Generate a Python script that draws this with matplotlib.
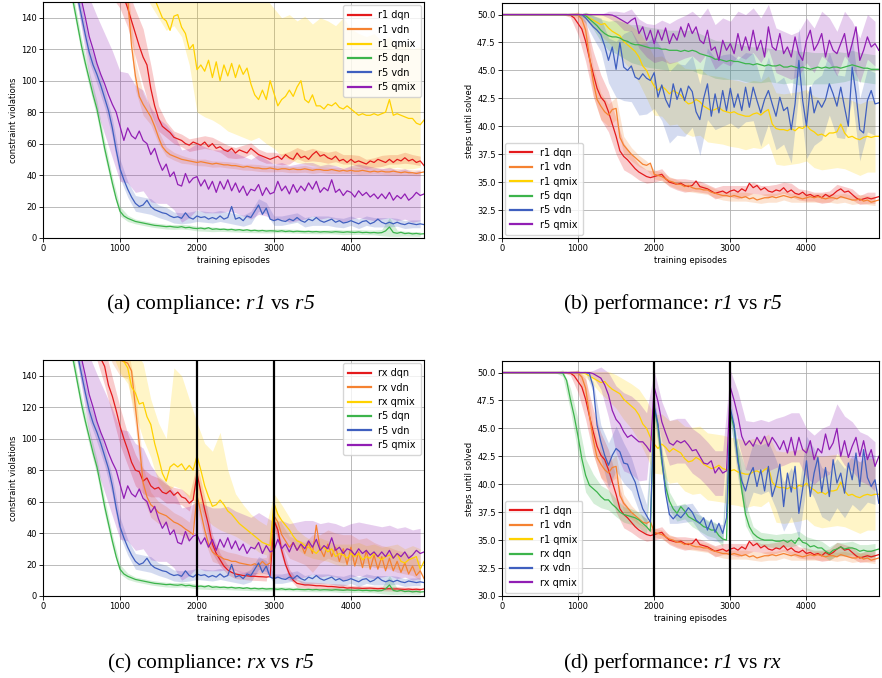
import numpy as np
import matplotlib
matplotlib.use("Agg")
import matplotlib.pyplot as plt

# math segments of the captions are fully italic (digits too)
plt.rcParams["mathtext.fontset"] = "custom"
plt.rcParams["mathtext.it"] = "Liberation Serif:italic"
plt.rcParams["mathtext.rm"] = "Liberation Serif:italic"

# training episodes, sampled every 50 (curves) and every 100 (bands)
episodes = np.arange(0, 5000, 50)
band_episodes = np.arange(0, 5000, 100)

# ---------------- (a) compliance: r1 vs r5 (constraint violations) ----------------
viol_r1_dqn = np.array([
    192, 192, 191, 191, 190, 190, 189, 189, 188, 187,
    186, 185, 183, 181, 178, 175, 171, 167, 163, 159,
    156, 153, 146, 138, 130, 122, 115, 110, 95, 84,
    76, 71, 69, 67, 64, 63, 62, 60, 59, 61,
    60, 59, 61, 58, 60, 57, 58, 56, 55, 57,
    54, 56, 55, 54, 57, 55, 53, 52, 51, 50,
    51, 52, 50, 53, 51, 50, 54, 51, 52, 50,
    53, 55, 52, 53, 51, 50, 52, 49, 50, 48,
    50, 48, 49, 48, 47, 49, 48, 50, 49, 48,
    50, 48, 50, 49, 51, 49, 50, 48, 49, 46])
viol_r1_vdn = np.array([
    240, 236, 232, 228, 224, 220, 216, 212, 208, 204,
    209, 208, 207, 206, 204, 202, 200, 198, 195, 192,
    188, 175, 152, 122, 103, 90, 85, 81, 77, 71,
    64, 58, 55, 53, 52, 51, 50, 49.5, 49, 48.5,
    48, 48.5, 48, 47.5, 47, 47.5, 47, 46.5, 46.5, 46,
    46, 45.5, 45, 45.5, 45, 44.5, 44.5, 44, 44, 44.5,
    44, 43.5, 44, 44, 43.5, 44, 43.5, 43.5, 44, 43.5,
    43, 43.5, 43.5, 43, 43, 43.5, 43, 42.5, 43, 42.5,
    43, 42.5, 42.5, 43, 42.5, 42, 42.5, 42, 42.5, 42,
    42, 42.5, 42, 41.5, 42, 41.5, 41.5, 41, 41.5, 42])
viol_r1_qmix = np.array([
    230, 229, 228, 227, 226, 225, 224, 222, 220, 218,
    216, 214, 212, 210, 207, 204, 201, 198, 195, 191,
    187, 183, 179, 175, 171, 167, 163, 160, 156, 152,
    146, 140, 138, 132, 141, 142, 134, 130, 120, 123,
    107, 110, 106, 113, 102, 112, 100, 110, 103, 111,
    102, 110, 104, 108, 98, 91, 88, 94, 88, 100,
    92, 84, 88, 90, 94, 90, 96, 100, 88, 86,
    91, 84, 84, 82, 85, 84, 86, 83, 82, 84,
    82, 80, 78, 79, 78, 78, 79, 78, 79, 80,
    88, 78, 79, 78, 77, 76, 76, 73, 72, 75])
viol_r5_dqn = np.array([
    245, 235, 222, 210, 196, 185, 172, 160, 148, 135,
    122, 111, 101, 91, 82, 70, 57, 46, 35, 25,
    17, 14, 12.5, 11.5, 10.5, 10, 9.5, 9, 8.5, 8,
    7.8, 7.5, 7.2, 7.4, 7, 6.8, 7.2, 6.5, 6.8, 6.2,
    6, 6.3, 5.8, 6.5, 5.5, 5.8, 5.4, 5.6, 5.2, 5.5,
    5, 5.3, 4.8, 5.2, 4.6, 4.9, 4.5, 4.8, 4.4, 4.6,
    4.5, 4.2, 4.6, 4.1, 4.4, 4.0, 4.3, 4.1, 4.0, 4.2,
    3.9, 4.1, 3.8, 4.0, 3.9, 3.7, 4.0, 3.8, 3.6, 3.9,
    3.7, 3.5, 3.8, 3.4, 3.6, 3.3, 3.5, 3.2, 3.4, 4.5,
    7, 3.5, 3, 3.6, 2.8, 3.1, 2.6, 2.9, 2.5, 2.7])
viol_r5_vdn = np.array([
    265, 255, 245, 232, 220, 206, 192, 178, 165, 153,
    141, 129, 118, 110, 104, 97, 89, 81, 70, 56,
    44, 37, 31, 26, 22, 20, 21, 24, 20, 18,
    17, 16, 15.5, 14, 13, 13.5, 12.5, 16, 13, 12,
    14, 13, 13.5, 12, 13, 12, 14, 12, 13, 20,
    12, 13, 11, 14, 13, 17, 21, 15, 19, 12,
    11, 12, 11, 10.5, 12, 11, 13, 11, 10, 12,
    11, 13, 11, 10, 11, 12, 10, 11, 9.5, 10,
    11, 10, 9, 10.5, 11, 9, 10, 12, 10, 9,
    10, 9, 10, 9, 8.5, 9.5, 9, 8.5, 9, 8.5])
viol_r5_qmix = np.array([
    270, 258, 246, 234, 222, 210, 198, 186, 174, 162,
    151, 140, 128, 120, 111, 104, 98, 91, 85, 80,
    71, 62, 70, 65, 63, 68, 62, 60, 53, 57,
    49, 43, 47, 39, 42, 34, 33, 41, 35, 38,
    39, 33, 37, 31, 36, 29, 36, 31, 37, 30,
    35, 29, 33, 27, 31, 30, 34, 27, 32, 28,
    29, 36, 30, 33, 28, 34, 29, 33, 30, 35,
    31, 36, 29, 32, 30, 37, 29, 31, 27, 30,
    29, 26, 30, 27, 29, 26, 28, 25, 28, 25,
    29, 24, 27, 25, 28, 24, 26, 29, 27, 28])

hw_viol_r1_dqn = [10, 10, 10, 10, 10, 10, 10, 10, 10, 10,
                  10, 12, 15, 18, 15, 8, 5, 4, 4, 4,
                  4, 4, 4, 3.5, 4, 3.5, 4, 3.5, 3.5, 3.5,
                  3.5, 3.5, 4, 3.5, 3.5, 4, 3.5, 3.5, 3.5, 3,
                  3, 3.5, 3, 3, 3.5, 3, 3, 3.5, 3, 3]
hw_viol_r1_vdn = [8, 8, 8, 8, 8, 8, 8, 8, 8, 8,
                  8, 10, 9, 7, 5, 4, 3, 2.5, 2.5, 2,
                  2, 2.2, 2, 1.8, 2, 2, 1.8, 2, 2.2, 2,
                  2, 1.8, 2, 2, 2.2, 2, 1.8, 2, 2, 2,
                  2, 2.2, 2, 1.8, 2, 2, 2.2, 2, 1.8, 2]
lo_viol_r1_qmix = [215, 213, 211, 209, 205, 201, 197, 192, 186, 180,
                   172, 164, 160, 157, 148, 140, 132, 135, 128, 110,
                   80, 77, 75, 72, 68, 66, 64, 62, 64, 60,
                   57, 52, 50, 48, 47, 46, 45, 45, 46, 45,
                   45, 44, 45, 44, 45, 44, 45, 44, 44, 45]
hi_viol_r1_qmix = [250, 250, 250, 250, 250, 250, 250, 250, 250, 250,
                   240, 230, 220, 210, 200, 190, 185, 185, 180, 175,
                   170, 170, 168, 165, 165, 163, 160, 158, 155, 152,
                   146, 140, 142, 138, 141, 136, 140, 138, 135, 140,
                   133, 130, 128, 130, 125, 128, 122, 124, 120, 122]
hw_viol_r5_dqn = [5, 5, 5, 5, 5, 5, 5, 5, 5, 4,
                  3, 2, 1.5, 1.5, 1.5, 1.5, 1.5, 1.5, 1.5, 1.5,
                  1.5, 1.5, 1.5, 1.2, 1.2, 1.2, 1.2, 1.2, 1.2, 1.2,
                  1.2, 1.2, 1.2, 1.2, 1.2, 1.2, 1.2, 1.2, 1.5, 1.5,
                  1.5, 1.5, 1.5, 1.5, 2, 6, 2, 1.5, 1.5, 1.5]
hw_viol_r5_vdn = [6, 6, 6, 6, 6, 6, 6, 6, 6, 6,
                  6, 5, 5, 5, 5, 4, 4, 3.5, 3.5, 3.5,
                  3.5, 3.5, 3.5, 3.5, 3.5, 3.5, 3.5, 4, 4, 3.5,
                  3, 3, 3, 3, 3, 3, 3, 3, 3, 3,
                  3, 3, 3, 3, 3, 3, 2.5, 2.5, 2.5, 2.5]
hw_viol_r5_qmix = [10, 10, 10, 10, 12, 18, 25, 30, 32, 34,
                   35, 35, 34, 32, 30, 27, 25, 24, 23, 22,
                   21, 21, 20, 20, 20, 19, 19, 19, 19, 18,
                   18, 18, 18, 18, 18, 17, 17, 17, 17, 17,
                   17, 17, 17, 17, 16, 16, 16, 16, 16, 16]

# ---------------- (b) performance: r1 vs r5 (steps until solved) ----------------
steps_r1_dqn = np.array([
    50, 50, 50, 50, 50, 50, 50, 50, 50, 50,
    50, 50, 50, 50, 50, 50, 50, 50, 49.95, 49.7,
    49.2, 48.7, 47.6, 46.1, 44.7, 43.4, 42.6, 42.2, 41.3, 40.2,
    39.1, 37.8, 37.3, 37.0, 36.6, 36.2, 35.9, 35.7, 35.5, 35.4,
    35.5, 35.6, 35.7, 35.3, 35.0, 34.9, 34.8, 34.9, 34.7, 34.6,
    34.7, 35.1, 34.6, 34.5, 34.4, 34.2, 34.0, 34.1, 34.2, 34.0,
    34.2, 34.3, 34.1, 34.4, 34.2, 34.9, 34.5, 34.7, 34.3, 34.5,
    34.2, 34.1, 34.3, 34.2, 34.5, 34.1, 34.3, 34.0, 33.9, 34.1,
    33.8, 33.9, 33.7, 33.8, 33.6, 33.9, 33.7, 33.9, 34.2, 34.4,
    34.1, 34.2, 33.9, 33.6, 33.4, 33.5, 33.6, 33.5, 33.6, 33.7])
steps_r1_vdn = np.array([
    50, 50, 50, 50, 50, 50, 50, 50, 50, 50,
    50, 50, 50, 50, 50, 50, 50, 50, 50, 50,
    49.95, 49.6, 48.6, 46.2, 44.0, 42.4, 41.8, 41.3, 41.0, 41.5,
    41.6, 39.0, 38.3, 37.9, 37.5, 37.2, 36.9, 36.6, 36.5, 36.7,
    35.7, 35.6, 35.5, 35.3, 35.1, 35.0, 34.8, 34.8, 34.6, 34.7,
    34.5, 34.4, 34.4, 34.3, 34.3, 34.1, 34.0, 33.9, 33.8, 33.8,
    33.7, 33.8, 33.7, 33.6, 33.7, 33.5, 33.6, 33.4, 33.5, 33.6,
    33.6, 33.7, 33.6, 33.7, 33.8, 33.7, 33.6, 33.7, 33.6, 33.5,
    33.6, 33.7, 33.6, 33.7, 33.6, 33.5, 33.6, 33.6, 33.5, 33.7,
    33.6, 33.5, 33.4, 33.4, 33.5, 33.3, 33.4, 33.2, 33.3, 33.4])
steps_r1_qmix = np.array([
    50, 50, 50, 50, 50, 50, 50, 50, 50, 50,
    50, 50, 50, 50, 50, 50, 50, 50, 50, 50,
    50, 50, 49.9, 49.7, 49.5, 49.3, 49.1, 49.2, 48.8, 48.5,
    48.3, 48.1, 47.6, 47.3, 47.0, 46.7, 46.2, 45.4, 45.0, 44.2,
    43.6, 43.2, 43.6, 43.3, 42.9, 43.2, 43.0, 42.8, 42.3, 42.0,
    42.1, 42.4, 42.2, 41.8, 41.6, 41.4, 41.5, 41.7, 41.4, 41.3,
    41.2, 41.3, 41.1, 41.0, 40.9, 40.9, 41.1, 41.2, 41.0, 41.3,
    41.5, 40.2, 39.8, 39.7, 39.7, 39.6, 39.8, 39.6, 39.9, 39.8,
    40.1, 39.7, 39.5, 39.2, 39.3, 39.1, 39.4, 39.4, 39.5, 40.2,
    39.4, 39.0, 39.1, 38.9, 38.8, 39.0, 39.1, 39.0, 39.1, 39.1])
steps_r5_dqn = np.array([
    50, 50, 50, 50, 50, 50, 50, 50, 50, 50,
    50, 50, 50, 50, 50, 50, 50, 50, 50, 50,
    50, 50, 49.9, 49.6, 49.3, 49.0, 48.6, 48.3, 48.1, 48.0,
    48.0, 47.9, 47.7, 47.6, 47.4, 47.3, 47.3, 47.2, 47.1, 47.0,
    47.0, 47.0, 46.9, 46.9, 46.8, 46.8, 46.8, 46.7, 46.8, 46.7,
    46.8, 46.7, 46.5, 46.4, 46.3, 46.2, 46.0, 46.0, 45.9, 45.8,
    45.9, 45.8, 45.8, 45.7, 45.6, 45.6, 45.5, 45.6, 45.5, 45.4,
    45.5, 45.4, 45.4, 45.5, 45.3, 45.3, 45.4, 45.3, 45.2, 45.3,
    45.2, 45.1, 45.2, 45.3, 45.2, 45.3, 45.2, 45.3, 45.3, 45.2,
    45.3, 45.4, 45.5, 45.4, 45.3, 45.2, 45.2, 45.1, 45.1, 45.1])
steps_r5_vdn = np.array([
    50, 50, 50, 50, 50, 50, 50, 50, 50, 50,
    50, 50, 50, 50, 50, 50, 50, 50, 50, 50,
    50, 50, 49.7, 49.3, 48.9, 48.6, 48.2, 47.2, 45.9, 47.1,
    45.1, 47.5, 45.3, 45.0, 45.4, 44.4, 44.2, 44.7, 44.3, 44.1,
    44.8, 42.6, 43.7, 42.4, 41.7, 43.8, 42.4, 43.4, 42.3, 43.6,
    43.1, 41.3, 40.6, 42.5, 43.8, 40.9, 42.9, 41.2, 43.2, 41.4,
    43.4, 41.7, 42.9, 41.4, 43.5, 41.7, 43.5, 42.3, 41.2, 42.4,
    43.2, 42.0, 40.9, 42.6, 41.4, 41.7, 39.7, 42.0, 45.9, 42.3,
    40.0, 43.5, 41.2, 42.3, 41.7, 42.4, 43.8, 42.9, 41.8, 43.5,
    41.7, 40.0, 45.3, 42.9, 39.7, 39.4, 42.3, 43.2, 42.0, 42.1])
steps_r5_qmix = np.array([
    50, 50, 50, 50, 50, 50, 50, 50, 50, 50,
    50, 50, 50, 50, 50, 50, 50, 50, 50, 50,
    50, 50, 50, 50, 50, 50, 50, 50, 50, 49.95,
    49.8, 49.6, 49.4, 49.2, 49.5, 49.7, 48.3, 48.9, 47.7, 48.6,
    47.4, 48.6, 47.7, 48.8, 47.4, 48.3, 47.7, 48.9, 48.0, 49.2,
    48.3, 48.9, 47.7, 47.4, 48.6, 46.8, 47.1, 45.9, 47.7, 46.8,
    47.4, 46.5, 48.3, 46.8, 48.0, 46.8, 48.6, 46.8, 47.7, 46.2,
    48.9, 47.1, 46.8, 48.3, 46.5, 47.1, 46.2, 48.0, 46.5, 45.9,
    47.7, 48.6, 46.8, 47.4, 48.3, 46.2, 47.7, 46.8, 46.5, 47.4,
    48.3, 46.2, 47.4, 48.9, 45.9, 46.8, 48.0, 47.1, 47.4, 46.8])

hw_steps_r1_dqn = [0, 0, 0, 0, 0, 0, 0, 0, 0, 0.2,
                   1.0, 1.8, 2.0, 2.0, 1.8, 1.6, 1.2, 0.9, 0.7, 0.6,
                   0.5, 0.5, 0.4, 0.5, 0.6, 0.5, 0.5, 0.4, 0.5, 0.5,
                   0.5, 0.6, 0.5, 0.5, 0.4, 0.5, 0.5, 0.5, 0.6, 0.5,
                   0.5, 0.4, 0.5, 0.5, 0.6, 0.5, 0.5, 0.4, 0.5, 0.5]
hw_steps_r1_vdn = [0, 0, 0, 0, 0, 0, 0, 0, 0, 0,
                   0.3, 1.0, 1.3, 1.2, 1.0, 1.0, 0.8, 0.6, 0.5, 0.4,
                   0.4, 0.4, 0.4, 0.4, 0.4, 0.4, 0.4, 0.4, 0.4, 0.4,
                   0.4, 0.4, 0.4, 0.4, 0.4, 0.4, 0.4, 0.4, 0.4, 0.4,
                   0.4, 0.4, 0.4, 0.4, 0.4, 0.4, 0.4, 0.4, 0.4, 0.4]
hw_steps_r1_qmix = [0, 0, 0, 0, 0, 0, 0, 0, 0, 0,
                    0, 0.3, 0.6, 1.0, 1.3, 1.5, 1.8, 2.0, 2.3, 2.5,
                    2.6, 2.7, 2.8, 2.8, 2.9, 3.0, 3.0, 3.0, 3.0, 3.0,
                    3.0, 3.0, 3.0, 3.0, 3.0, 3.0, 3.2, 3.2, 3.2, 3.2,
                    3.2, 3.2, 3.2, 3.2, 3.2, 3.2, 3.2, 3.2, 3.2, 3.2]
hw_steps_r5_dqn = [0, 0, 0, 0, 0, 0, 0, 0, 0, 0,
                   0, 0.3, 0.6, 1.0, 1.3, 1.5, 1.6, 1.7, 1.8, 1.8,
                   1.8, 1.8, 1.8, 1.8, 1.8, 1.8, 1.8, 1.7, 1.7, 1.7,
                   1.7, 1.6, 1.6, 1.6, 1.6, 1.5, 1.5, 1.5, 1.5, 1.5,
                   1.5, 1.4, 1.4, 1.4, 1.4, 1.3, 1.3, 1.3, 1.3, 1.3]
hw_steps_r5_vdn = [0, 0, 0, 0, 0, 0, 0, 0, 0, 0,
                   0, 0.5, 1.0, 1.5, 2.0, 2.5, 3.0, 3.2, 3.2, 3.2,
                   3.2, 3.2, 3.2, 3.2, 3.2, 3.2, 3.2, 3.2, 3.2, 3.2,
                   3.1, 3.1, 3.1, 3.0, 3.0, 3.0, 3.0, 3.0, 3.0, 2.9,
                   2.9, 2.9, 2.9, 2.8, 2.8, 2.8, 2.8, 2.8, 2.8, 2.8]
hw_steps_r5_qmix = [0, 0, 0, 0, 0, 0, 0, 0, 0, 0,
                    0, 0, 0, 0, 0.3, 0.5, 0.8, 1.0, 1.3, 1.5,
                    1.7, 1.8, 1.8, 1.9, 1.9, 2.0, 2.0, 2.0, 2.0, 2.0,
                    2.0, 2.0, 2.0, 2.0, 2.0, 2.0, 2.0, 2.0, 2.0, 2.0,
                    2.0, 2.0, 2.0, 2.0, 2.0, 2.0, 2.0, 2.0, 2.0, 2.0]

# ---------------- (c) compliance: rx vs r5 ----------------
viol_rx_dqn = np.array([
    215, 212, 209, 206, 203, 200, 197, 194, 190, 186,
    180, 176, 172, 168, 162, 151, 146, 134, 127, 118,
    108, 100, 93, 85, 80, 79, 73, 75, 70, 68,
    69, 66, 65, 67, 64, 66, 63, 62, 59, 61,
    78, 66, 55, 45, 33, 27, 23, 19, 16.5, 15,
    14, 13.5, 13, 12.8, 12.5, 12.5, 12.3, 12.2, 12, 12.3,
    48, 42, 29, 20, 14, 10, 8, 7.5, 7, 7,
    6.8, 6.5, 6.5, 6.3, 6, 6, 5.8, 5.5, 5.5, 5,
    5.2, 5, 5, 4.8, 4.9, 5, 4.8, 4.6, 4.8, 4.5,
    4.6, 4.4, 4.5, 4.3, 4.2, 4.4, 4.1, 4.3, 4, 4.5])
viol_rx_vdn = np.array([
    240, 236, 232, 228, 224, 220, 216, 212, 208, 204,
    200, 195, 190, 185, 180, 175, 170, 165, 158, 152,
    150, 149, 148, 143, 120, 97, 72, 63, 58, 56,
    53, 52, 51, 49, 47, 46, 44.5, 42.5, 41, 39,
    64, 53, 42, 33, 28, 26, 25, 23.5, 23, 22,
    22, 21, 20.5, 20, 19.5, 20.5, 19, 22, 19.5, 21,
    51, 47, 39, 35, 31, 34, 29, 33, 27, 34,
    27, 45, 30, 25, 33, 25, 31, 22, 30, 20,
    31, 19, 28, 18, 29, 17, 26, 17, 25, 16,
    24, 16, 22, 15, 21, 14, 19, 13, 16, 11])
viol_rx_qmix = np.array([
    250, 246, 242, 238, 234, 230, 226, 222, 218, 214,
    210, 205, 200, 195, 190, 184, 178, 171, 164, 157,
    152, 149, 145, 133, 129, 122, 123, 114, 109, 97,
    88, 78, 73, 82, 84, 82, 84, 80, 83, 80,
    89, 80, 70, 63, 57, 58, 61, 58, 54, 52,
    49, 46, 44, 42, 40, 38, 36, 34, 33, 32,
    59, 52, 48, 45, 42, 38, 35, 34, 32, 31,
    29, 27, 30, 31, 28, 30, 25, 27, 26, 24,
    27, 25, 27, 23, 25, 24, 27, 25, 23, 25,
    26, 24, 27, 22, 21, 23, 24, 25, 17, 22])

hw_viol_rx_dqn = [10, 10, 10, 10, 10, 10, 10, 12, 12, 12,
                  12, 10, 10, 8, 7, 6, 6, 5, 5, 5,
                  6, 8, 6, 4, 3, 3, 2.5, 2.5, 2.5, 2.5,
                  4, 4, 3, 2.5, 2, 2, 2, 2, 2, 2,
                  1.5, 1.5, 1.5, 1.5, 1.5, 1.5, 1.5, 1.5, 1.5, 1.5]
hw_viol_rx_vdn = [10, 10, 10, 10, 10, 10, 10, 10, 10, 10,
                  10, 10, 12, 10, 8, 7, 6, 6, 6, 6,
                  8, 7, 6, 5, 5, 5, 5, 5, 5, 5,
                  8, 7, 7, 7, 7, 12, 9, 9, 9, 9,
                  8, 8, 8, 8, 7, 7, 7, 7, 6, 6]
lo_viol_rx_qmix = [240, 232, 224, 216, 208, 200, 190, 180, 168, 154,
                   142, 135, 115, 100, 88, 72, 65, 70, 68, 62,
                   60, 50, 45, 42, 40, 38, 35, 32, 28, 26,
                   45, 40, 35, 30, 26, 24, 23, 22, 20, 19,
                   20, 19, 18, 19, 18, 18, 17, 16, 16, 14]
hi_viol_rx_qmix = [260, 255, 250, 245, 240, 235, 230, 220, 210, 195,
                   180, 165, 155, 148, 125, 110, 100, 145, 140, 125,
                   110, 97, 92, 104, 80, 65, 58, 52, 48, 45,
                   65, 58, 50, 42, 38, 35, 37, 35, 33, 33,
                   33, 34, 32, 33, 31, 32, 33, 30, 32, 30]

# ---------------- (d) performance: r1 vs rx ----------------
steps_rx_dqn = np.array([
    50, 50, 50, 50, 50, 50, 50, 50, 50, 50,
    50, 50, 50, 50, 50, 50, 49.95, 49.3, 47.6, 46.1,
    44.3, 42.3, 40.8, 39.9, 39.6, 39.3, 38.9, 38.6, 38.6, 38.2,
    37.9, 37.5, 37.3, 37.2, 37.1, 37.0, 36.8, 36.5, 36.2, 35.8,
    46.9, 45.2, 42.0, 39.8, 38.5, 37.8, 37.4, 38.0, 37.6, 37.1,
    36.9, 36.7, 36.5, 36.2, 36.1, 35.9, 35.9, 35.4, 35.1, 35.0,
    46.4, 45.0, 42.4, 39.5, 37.3, 36.2, 35.6, 35.3, 35.1, 35.0,
    35.0, 35.0, 34.9, 34.9, 35.0, 34.8, 35.0, 34.7, 35.2, 34.8,
    34.7, 34.4, 34.5, 34.3, 34.3, 34.0, 33.8, 34.1, 34.2, 34.4,
    34.2, 34.3, 34.3, 34.2, 34.0, 34.1, 34.0, 34.0, 34.1, 34.2])
steps_rx_vdn = np.array([
    50, 50, 50, 50, 50, 50, 50, 50, 50, 50,
    50, 50, 50, 50, 50, 50, 50, 50, 50, 50,
    50, 50, 50, 49.9, 48.7, 45.3, 43.8, 42.6, 41.7, 42.6,
    43.2, 42.9, 41.9, 41.8, 40.9, 40.2, 38.9, 37.8, 37.2, 36.6,
    47.0, 45.4, 42.4, 39.2, 37.3, 36.9, 37.3, 37.0, 37.4, 37.9,
    37.5, 36.8, 36.5, 37.0, 35.9, 36.8, 35.7, 36.5, 35.6, 37.0,
    46.8, 45.3, 42.0, 40.3, 39.4, 40.8, 41.5, 39.8, 41.3, 39.4,
    41.6, 38.9, 40.0, 41.8, 38.0, 41.0, 39.3, 41.6, 37.4, 39.6,
    42.1, 38.9, 41.0, 42.4, 39.3, 41.5, 38.9, 42.2, 40.1, 41.0,
    39.2, 41.9, 40.4, 42.8, 39.8, 43.1, 40.6, 39.8, 40.4, 38.3])
steps_rx_qmix = np.array([
    50, 50, 50, 50, 50, 50, 50, 50, 50, 50,
    50, 50, 50, 50, 50, 50, 50, 50, 50, 50,
    50, 50, 50, 50, 49.9, 49.7, 49.5, 48.9, 48.0, 46.6,
    45.8, 45.4, 44.7, 44.2, 44.4, 44.1, 43.8, 43.8, 43.4, 42.9,
    48.7, 47.4, 45.6, 44.6, 43.7, 43.5, 43.9, 43.7, 43.9, 43.5,
    43.0, 43.1, 42.5, 41.9, 41.8, 42.1, 41.0, 41.5, 41.0, 41.2,
    48.7, 47.5, 46.1, 44.3, 43.5, 43.9, 43.4, 44.2, 43.6, 44.3,
    43.4, 44.2, 43.7, 43.1, 43.9, 42.8, 44.2, 42.6, 44.2, 43.1,
    42.8, 43.9, 42.2, 43.2, 42.8, 44.5, 43.1, 43.7, 45.0, 42.5,
    43.9, 42.4, 43.4, 44.2, 42.5, 43.9, 42.2, 43.1, 41.6, 42.5])

hw_steps_rx_dqn = [0, 0, 0, 0, 0, 0, 0, 0, 0.3, 1.0,
                   1.5, 1.5, 1.3, 1.0, 0.9, 0.8, 0.7, 0.7, 0.7, 0.7,
                   0.8, 1.0, 0.8, 0.7, 0.7, 0.7, 0.7, 0.7, 0.7, 0.7,
                   0.8, 1.2, 1.0, 0.6, 0.6, 0.6, 0.6, 0.6, 0.6, 0.6,
                   0.6, 0.6, 0.6, 0.6, 0.6, 0.6, 0.6, 0.6, 0.6, 0.6]
hw_steps_rx_vdn = [0, 0, 0, 0, 0, 0, 0, 0, 0, 0,
                   0, 0, 0.5, 1.5, 2.0, 2.0, 1.8, 1.5, 1.3, 1.0,
                   0.8, 1.0, 0.8, 0.8, 0.8, 0.8, 0.8, 0.8, 0.8, 0.8,
                   1.0, 1.5, 2.0, 2.2, 2.2, 2.2, 2.2, 2.2, 2.2, 2.2,
                   2.2, 2.2, 2.2, 2.2, 2.2, 2.2, 2.2, 2.2, 2.2, 2.2]
hw_steps_rx_qmix = [0, 0, 0, 0, 0, 0, 0, 0, 0, 0,
                    0, 0, 0.3, 1.0, 2.0, 3.0, 3.5, 3.5, 3.5, 3.0,
                    1.5, 1.8, 2.0, 2.0, 2.0, 2.0, 2.0, 2.0, 2.0, 2.0,
                    1.5, 2.2, 2.2, 2.2, 2.2, 2.2, 2.2, 2.2, 2.2, 2.2,
                    2.2, 2.2, 2.2, 2.2, 2.2, 2.2, 2.2, 2.2, 2.2, 2.2]

colors = {"dqn1": "#e41a1c", "vdn1": "#f58231", "qmix1": "#ffd200",
          "dqn2": "#3cb44b", "vdn2": "#3f5fbf", "qmix2": "#911eb4"}


def sym(mean, hw):
    m = mean[::2]
    hw = np.array(hw)
    return m - hw, m + hw


def draw_panel(ax, curves, ylim, yticks, ylabel, legend_loc, switches=False):
    for label, color, mean, (lo, hi) in curves:
        ax.fill_between(band_episodes, lo, hi, color=color, alpha=0.22, lw=0)
        ax.plot(episodes, mean, color=color, lw=0.9, label=label)
    if switches:
        for x in (2000, 3000):
            ax.axvline(x, color="black", lw=1.6, zorder=5)
    ax.set_xlim(0, 4950)
    ax.set_ylim(*ylim)
    ax.set_xticks([0, 1000, 2000, 3000, 4000])
    ax.set_yticks(yticks)
    ax.grid(True, color="#b0b0b0", lw=0.6)
    ax.set_axisbelow(True)
    ax.tick_params(labelsize=6, length=3, width=0.6, pad=1.5)
    for s in ax.spines.values():
        s.set_linewidth(0.8)
    ax.set_xlabel("training episodes", fontsize=6, labelpad=2)
    ax.set_ylabel(ylabel, fontsize=6, labelpad=2)
    leg = ax.legend(loc=legend_loc, fontsize=7, handlelength=2.3,
                    labelspacing=0.45, borderpad=0.5, borderaxespad=0.35,
                    framealpha=0.8)
    for line in leg.get_lines():
        line.set_linewidth(1.6)


fig = plt.figure(figsize=(8.82, 6.78), dpi=100)
ax_a = fig.add_axes([0.0488, 0.649, 0.432, 0.348])
ax_b = fig.add_axes([0.569, 0.649, 0.4274, 0.346])
ax_c = fig.add_axes([0.0488, 0.121, 0.432, 0.348])
ax_d = fig.add_axes([0.569, 0.121, 0.4274, 0.346])

viol_ticks = [0, 20, 40, 60, 80, 100, 120, 140]
step_ticks = [30.0, 32.5, 35.0, 37.5, 40.0, 42.5, 45.0, 47.5, 50.0]

draw_panel(ax_a, [
    ("r1 dqn", colors["dqn1"], viol_r1_dqn, sym(viol_r1_dqn, hw_viol_r1_dqn)),
    ("r1 vdn", colors["vdn1"], viol_r1_vdn, sym(viol_r1_vdn, hw_viol_r1_vdn)),
    ("r1 qmix", colors["qmix1"], viol_r1_qmix, (lo_viol_r1_qmix, hi_viol_r1_qmix)),
    ("r5 dqn", colors["dqn2"], viol_r5_dqn, sym(viol_r5_dqn, hw_viol_r5_dqn)),
    ("r5 vdn", colors["vdn2"], viol_r5_vdn, sym(viol_r5_vdn, hw_viol_r5_vdn)),
    ("r5 qmix", colors["qmix2"], viol_r5_qmix, sym(viol_r5_qmix, hw_viol_r5_qmix)),
], (0, 150), viol_ticks, "constraint violations", "upper right")

draw_panel(ax_b, [
    ("r1 dqn", colors["dqn1"], steps_r1_dqn, sym(steps_r1_dqn, hw_steps_r1_dqn)),
    ("r1 vdn", colors["vdn1"], steps_r1_vdn, sym(steps_r1_vdn, hw_steps_r1_vdn)),
    ("r1 qmix", colors["qmix1"], steps_r1_qmix, sym(steps_r1_qmix, hw_steps_r1_qmix)),
    ("r5 dqn", colors["dqn2"], steps_r5_dqn, sym(steps_r5_dqn, hw_steps_r5_dqn)),
    ("r5 vdn", colors["vdn2"], steps_r5_vdn, sym(steps_r5_vdn, hw_steps_r5_vdn)),
    ("r5 qmix", colors["qmix2"], steps_r5_qmix, sym(steps_r5_qmix, hw_steps_r5_qmix)),
], (30, 51), step_ticks, "steps until solved", "lower left")

draw_panel(ax_c, [
    ("rx dqn", colors["dqn1"], viol_rx_dqn, sym(viol_rx_dqn, hw_viol_rx_dqn)),
    ("rx vdn", colors["vdn1"], viol_rx_vdn, sym(viol_rx_vdn, hw_viol_rx_vdn)),
    ("rx qmix", colors["qmix1"], viol_rx_qmix, (lo_viol_rx_qmix, hi_viol_rx_qmix)),
    ("r5 dqn", colors["dqn2"], viol_r5_dqn, sym(viol_r5_dqn, hw_viol_r5_dqn)),
    ("r5 vdn", colors["vdn2"], viol_r5_vdn, sym(viol_r5_vdn, hw_viol_r5_vdn)),
    ("r5 qmix", colors["qmix2"], viol_r5_qmix, sym(viol_r5_qmix, hw_viol_r5_qmix)),
], (0, 150), viol_ticks, "constraint violations", "upper right", switches=True)

draw_panel(ax_d, [
    ("r1 dqn", colors["dqn1"], steps_r1_dqn, sym(steps_r1_dqn, hw_steps_r1_dqn)),
    ("r1 vdn", colors["vdn1"], steps_r1_vdn, sym(steps_r1_vdn, hw_steps_r1_vdn)),
    ("r1 qmix", colors["qmix1"], steps_r1_qmix, sym(steps_r1_qmix, hw_steps_r1_qmix)),
    ("rx dqn", colors["dqn2"], steps_rx_dqn, sym(steps_rx_dqn, hw_steps_rx_dqn)),
    ("rx vdn", colors["vdn2"], steps_rx_vdn, sym(steps_rx_vdn, hw_steps_rx_vdn)),
    ("rx qmix", colors["qmix2"], steps_rx_qmix, sym(steps_rx_qmix, hw_steps_rx_qmix)),
], (30, 51), step_ticks, "steps until solved", "lower left", switches=True)

cap = dict(ha="center", va="center", fontsize=15.5, family="Liberation Serif")
fig.text(211 / 882, 1 - 304 / 678, r"(a) compliance: $r1$ vs $r5$", **cap)
fig.text(673 / 882, 1 - 304 / 678, r"(b) performance: $r1$ vs $r5$", **cap)
fig.text(211 / 882, 1 - 663 / 678, r"(c) compliance: $rx$ vs $r5$", **cap)
fig.text(673 / 882, 1 - 663 / 678, r"(d) performance: $r1$ vs $rx$", **cap)

fig.savefig("out.png", dpi=100)
